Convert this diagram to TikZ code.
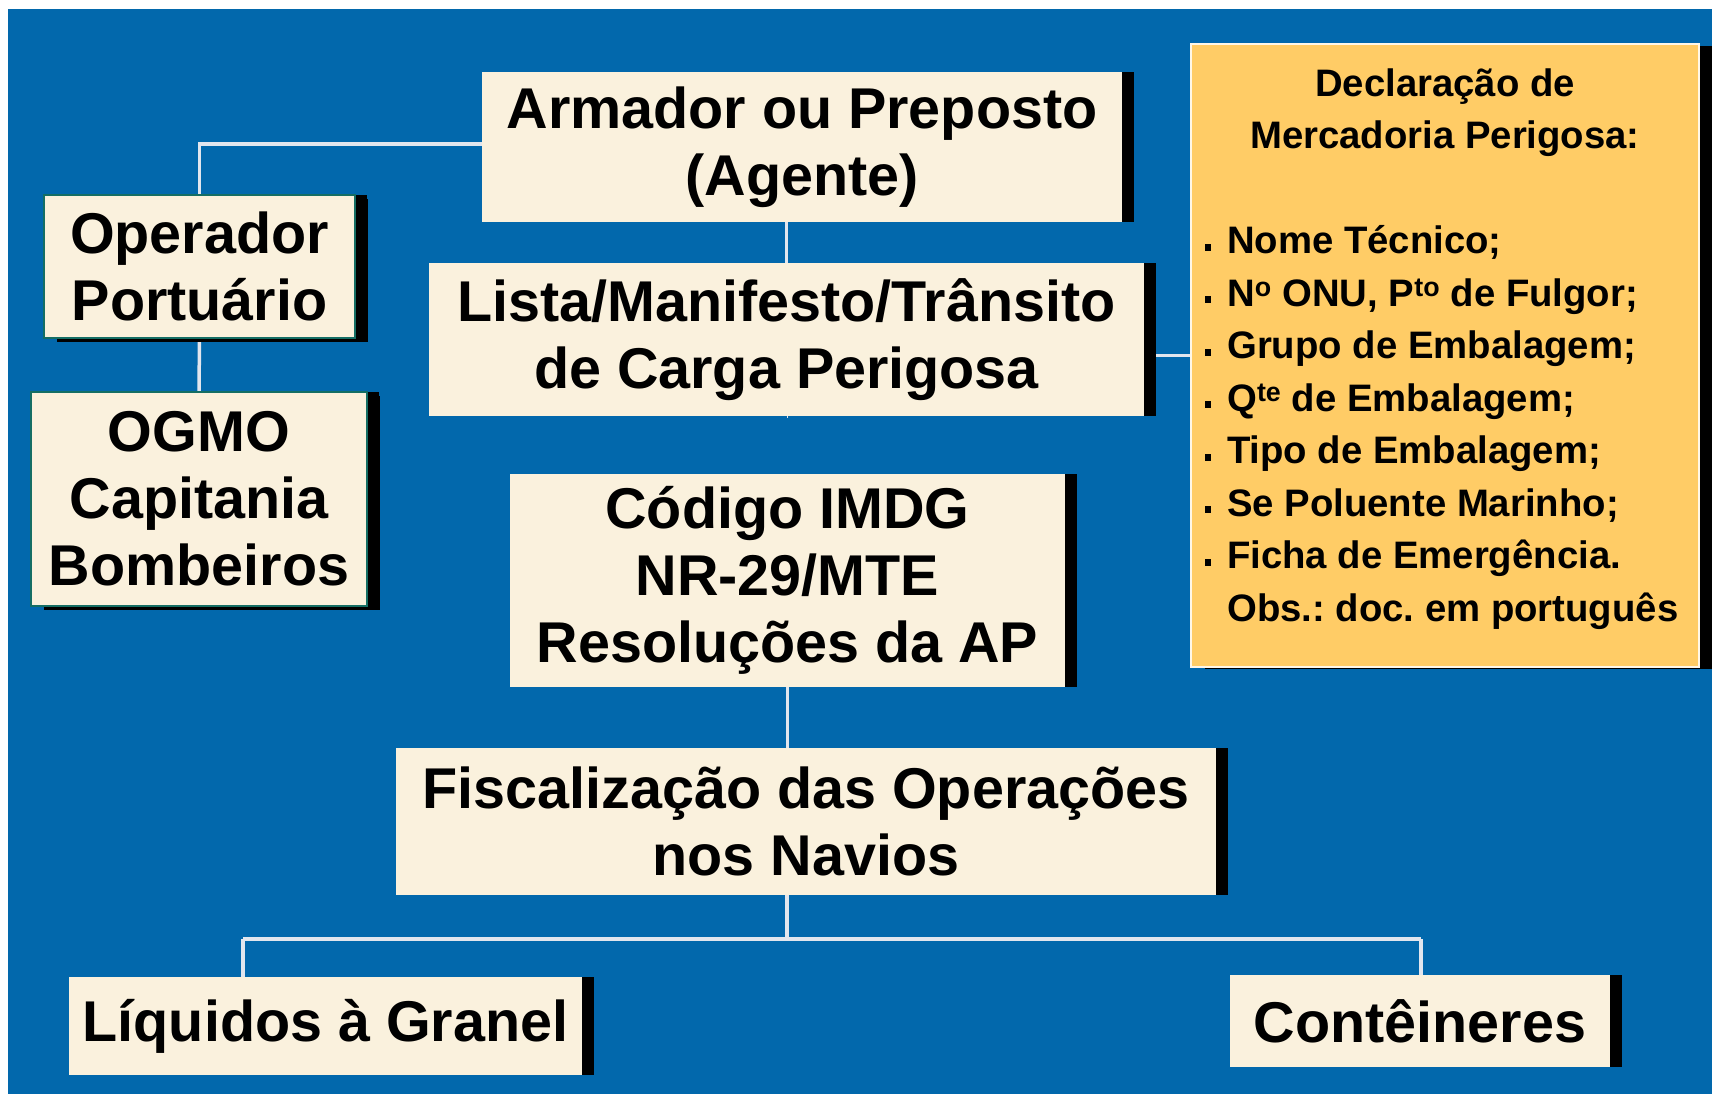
\documentclass[tikz,border=0pt]{standalone}
\usepackage{fontspec}
\setmainfont{Liberation Sans}
\usetikzlibrary{shadows,backgrounds}
\definecolor{bgblue}{RGB}{2,104,172}
\definecolor{cream}{RGB}{250,241,221}
\definecolor{declyellow}{RGB}{255,204,102}
\definecolor{linegray}{RGB}{226,230,238}
\definecolor{tealedge}{RGB}{20,110,100}
\newcommand{\declbullet}{\makebox[22pt][l]{\rule[3pt]{6pt}{7pt}}}
\frenchspacing
\begin{document}
\begin{tikzpicture}[x=1pt,y=-1pt,
  mainbox/.style={fill=cream, draw=none, inner sep=0pt, align=center,
    font=\bfseries\fontsize{57.5}{67}\selectfont,
    drop shadow={shadow xshift=12pt, shadow yshift=0pt, fill=black, opacity=1}},
  sidebox/.style={mainbox, draw=tealedge, line width=1.5pt,
    drop shadow={shadow xshift=13pt, shadow yshift=-4pt, fill=black, opacity=1}},
  declbox/.style={fill=declyellow, draw=white!85!declyellow, line width=2pt, inner sep=0pt,
    drop shadow={shadow xshift=14pt, shadow yshift=-2pt, fill=black, opacity=1}},
  decltext/.style={inner sep=0pt, font=\bfseries\fontsize{38.3}{52.5}\selectfont},
  link/.style={draw=linegray, line width=3.5pt},
  biglink/.style={draw=linegray, line width=4.5pt}]
\useasboundingbox (0,0) rectangle (1712,1098);
% boxes
\node[mainbox, minimum width=640pt, minimum height=150pt] (arm) at (802,147) {Armador ou Preposto\\(Agente)};
\node[mainbox, minimum width=715pt, minimum height=153pt] (lista) at (786.5,339.5) {Lista/Manifesto/Trânsito\\de Carga Perigosa};
\node[mainbox, minimum width=555pt, minimum height=213pt] (cod) at (787.5,580.5) {Código IMDG\\NR-29/MTE\\Resoluções da AP};
\node[mainbox, minimum width=820pt, minimum height=147pt] (fisc) at (806,821.5) {Fiscalização das Operações\\nos Navios};
\node[sidebox, minimum width=311pt, minimum height=143pt] (oper) at (199.5,266.5) {Operador\\Portuário};
\node[sidebox, minimum width=336pt, minimum height=214pt] (ogmo) at (199,499) {OGMO\\Capitania\\Bombeiros};
\node[mainbox, minimum width=513pt, minimum height=98pt] (liq) at (325.5,1026) {Líquidos à Granel};
\node[mainbox, minimum width=380pt, minimum height=92pt] (cont) at (1420,1021) {Contêineres};
\node[declbox, minimum width=508pt, minimum height=623pt] (decl) at (1445,355.5) {};
\node[decltext, align=center, anchor=base] (declhead) at (1445,148.5) {Declaração de\\Mercadoria Perigosa:};
\node[decltext, align=left, anchor=base west] (declist) at (1205,621) {\declbullet Nome Técnico;\\
\declbullet N\textsuperscript{o} ONU, P\textsuperscript{to} de Fulgor;\\
\declbullet Grupo de Embalagem;\\
\declbullet Q\textsuperscript{te} de Embalagem;\\
\declbullet Tipo de Embalagem;\\
\declbullet Se Poluente Marinho;\\
\declbullet Ficha de Emergência.\\
\hspace*{22pt}Obs.: doc. em português};
\coordinate (bj) at (787,939);
\coordinate (bl) at (243,939);
\coordinate (br) at (1421,939);
\begin{scope}[on background layer]
\fill[white] (0,0) rectangle (1712,1098);
\fill[bgblue] (8,9) rectangle (1712,1094);
\draw[link] (lista.north) -- (lista.north |- arm.south);
\draw[link] (lista.south) -- (lista.south -| cod.north);
\draw[link] (cod.south) -- (cod.south |- fisc.north);
\draw[link] (fisc.south -| bj) -- (bj);
\draw[link] ([yshift=3pt]arm.west) -| (oper.north);
\draw[link] (oper.south) -- (ogmo.north);
\draw[link] ([yshift=-16pt]lista.east) -- ([yshift=-16pt]lista.east -| decl.west);
\draw[biglink] (bl) -- (br);
\draw[link] (bl) -- (bl |- liq.north);
\draw[link] (br) -- (br |- cont.north);
\end{scope}
\end{tikzpicture}
\end{document}
